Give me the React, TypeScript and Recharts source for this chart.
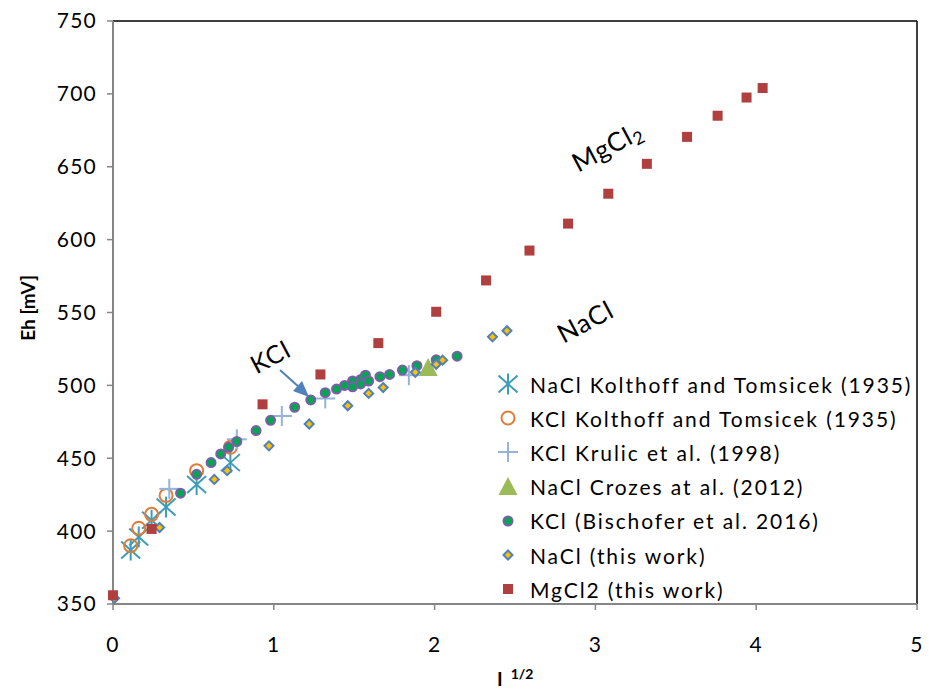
import { ScatterChart, Scatter, XAxis, YAxis, ReferenceLine, Legend } from 'recharts';

const FONT = 'Lato, "Open Sans", sans-serif';

// axes
const X_TICKS = [0, 1, 2, 3, 4, 5];
const Y_TICKS = [350, 400, 450, 500, 550, 600, 650, 700, 750];

// series: x = I^1/2, y = Eh [mV]
const naclKolthoff = [
  { x: 0.11, y: 387 },
  { x: 0.16, y: 396 },
  { x: 0.24, y: 407.5 },
  { x: 0.33, y: 416.5 },
  { x: 0.52, y: 432 },
  { x: 0.73, y: 447 },
];

const kclKolthoff = [
  { x: 0.11, y: 390 },
  { x: 0.16, y: 402 },
  { x: 0.24, y: 411.5 },
  { x: 0.33, y: 424.5 },
  { x: 0.52, y: 441.5 },
  { x: 0.73, y: 457.5 },
];

const kclKrulic = [
  { x: 0.35, y: 429 },
  { x: 0.77, y: 463 },
  { x: 1.05, y: 479 },
  { x: 1.32, y: 491 },
  { x: 1.84, y: 507 },
];

const naclCrozes = [{ x: 1.96, y: 512 }];

const kclBischofer = [
  { x: 0.42, y: 426 },
  { x: 0.52, y: 439 },
  { x: 0.61, y: 447 },
  { x: 0.67, y: 453 },
  { x: 0.72, y: 457.5 },
  { x: 0.77, y: 461.5 },
  { x: 0.89, y: 469 },
  { x: 0.98, y: 476 },
  { x: 1.13, y: 485 },
  { x: 1.23, y: 490 },
  { x: 1.32, y: 495 },
  { x: 1.39, y: 497.5 },
  { x: 1.44, y: 500 },
  { x: 1.49, y: 503 },
  { x: 1.49, y: 499 },
  { x: 1.54, y: 504 },
  { x: 1.54, y: 501 },
  { x: 1.57, y: 507 },
  { x: 1.59, y: 503 },
  { x: 1.66, y: 506 },
  { x: 1.72, y: 507.5 },
  { x: 1.8, y: 510.5 },
  { x: 1.89, y: 513.5 },
  { x: 2.01, y: 517.5 },
  { x: 2.14, y: 520 },
];

const naclThisWork = [
  { x: 0.01, y: 354 },
  { x: 0.29, y: 402.5 },
  { x: 0.63, y: 435.5 },
  { x: 0.71, y: 441.5 },
  { x: 0.97, y: 458.5 },
  { x: 1.22, y: 473.5 },
  { x: 1.46, y: 486 },
  { x: 1.59, y: 494.5 },
  { x: 1.68, y: 498.5 },
  { x: 1.88, y: 509 },
  { x: 2.01, y: 514.5 },
  { x: 2.05, y: 517.3 },
  { x: 2.36, y: 533.3 },
  { x: 2.45, y: 537.5 },
];

const mgcl2ThisWork = [
  { x: 0, y: 356 },
  { x: 0.24, y: 401.5 },
  { x: 0.93, y: 487 },
  { x: 1.29, y: 507.5 },
  { x: 1.65, y: 529 },
  { x: 2.01, y: 550.5 },
  { x: 2.32, y: 572 },
  { x: 2.59, y: 592.5 },
  { x: 2.83, y: 611 },
  { x: 3.08, y: 631.5 },
  { x: 3.32, y: 652 },
  { x: 3.57, y: 670.5 },
  { x: 3.76, y: 685 },
  { x: 3.94, y: 697.5 },
  { x: 4.04, y: 704 },
];

type Pt = { cx?: number; cy?: number };

const Asterisk = ({ cx = 0, cy = 0 }: Pt) => (
  <g stroke="#3E9DB6" strokeWidth={2}>
    <line x1={cx - 9.5} y1={cy - 8.5} x2={cx + 9.5} y2={cy + 8.5} />
    <line x1={cx - 9.5} y1={cy + 8.5} x2={cx + 9.5} y2={cy - 8.5} />
    <line x1={cx} y1={cy - 10.5} x2={cx} y2={cy + 10.5} />
  </g>
);

const OpenCircle = ({ cx = 0, cy = 0 }: Pt) => (
  <circle cx={cx} cy={cy} r={6.5} fill="none" stroke="#E07B39" strokeWidth={2} />
);

const Plus = ({ cx = 0, cy = 0 }: Pt) => (
  <g stroke="#95B3D7" strokeWidth={2}>
    <line x1={cx - 10} y1={cy} x2={cx + 10} y2={cy} />
    <line x1={cx} y1={cy - 10} x2={cx} y2={cy + 10} />
  </g>
);

const Triangle = ({ cx = 0, cy = 0 }: Pt) => (
  <polygon
    points={`${cx},${cy - 10} ${cx + 9.5},${cy + 8} ${cx - 9.5},${cy + 8}`}
    fill="#9BBB59"
  />
);

const GreenDot = ({ cx = 0, cy = 0 }: Pt) => (
  <circle cx={cx} cy={cy} r={4.5} fill="#00A651" stroke="#7B5EA7" strokeWidth={2} />
);

const Diamond = ({ cx = 0, cy = 0 }: Pt) => (
  <polygon
    points={`${cx},${cy - 4.5} ${cx + 4.5},${cy} ${cx},${cy + 4.5} ${cx - 4.5},${cy}`}
    fill="#FFC000"
    stroke="#4F81BD"
    strokeWidth={2}
  />
);

const Square = ({ cx = 0, cy = 0 }: Pt) => (
  <rect x={cx - 5} y={cy - 5} width={10} height={10} fill="#B0403F" />
);

const SERIES = [
  { name: 'NaCl Kolthoff and Tomsicek (1935)', data: naclKolthoff, Icon: Asterisk },
  { name: 'KCl Kolthoff and Tomsicek (1935)', data: kclKolthoff, Icon: OpenCircle },
  { name: 'KCl Krulic et al. (1998)', data: kclKrulic, Icon: Plus },
  { name: 'NaCl Crozes at al. (2012)', data: naclCrozes, Icon: Triangle },
  { name: 'KCl (Bischofer et al. 2016)', data: kclBischofer, Icon: GreenDot },
  { name: 'NaCl (this work)', data: naclThisWork, Icon: Diamond },
  { name: 'MgCl2 (this work)', data: mgcl2ThisWork, Icon: Square },
];

const renderLegend = () => (
  <div style={{ fontFamily: FONT, fontSize: 21, letterSpacing: 1.9, color: '#000' }}>
    {SERIES.map(({ name, Icon }) => (
      <div key={name} style={{ display: 'flex', alignItems: 'center', height: 34.2 }}>
        <svg width={30} height={30}>
          <Icon cx={15} cy={15} />
        </svg>
        <span style={{ marginLeft: 7, whiteSpace: 'nowrap' }}>{name}</span>
      </div>
    ))}
  </div>
);

export default function App() {
  const tick = { fill: '#000', fontSize: 21, fontFamily: FONT, letterSpacing: 1.2 };
  return (
    <div style={{ position: 'absolute', left: 0, top: 0, width: 929, height: 692, background: '#fff' }}>
      <ScatterChart width={929} height={692} margin={{ top: 21, right: 12, bottom: 0, left: 0 }}>
        <XAxis
          type="number"
          dataKey="x"
          domain={[0, 5]}
          ticks={X_TICKS}
          height={88}
          tick={tick}
          tickSize={6}
          tickMargin={27}
          axisLine={{ stroke: '#868686', strokeWidth: 2 }}
          tickLine={{ stroke: '#868686', strokeWidth: 1.5 }}
        />
        <YAxis
          type="number"
          dataKey="y"
          domain={[350, 750]}
          ticks={Y_TICKS}
          width={113}
          tick={tick}
          tickSize={6}
          tickMargin={10}
          axisLine={{ stroke: '#868686', strokeWidth: 2 }}
          tickLine={{ stroke: '#868686', strokeWidth: 1.5 }}
        />
        <ReferenceLine y={750} stroke="#000" strokeWidth={1.5} />
        <ReferenceLine x={5} stroke="#000" strokeWidth={1.5} />
        {SERIES.map(({ name, data, Icon }) => (
          <Scatter
            key={name}
            name={name}
            data={data}
            isAnimationActive={false}
            shape={(p: Pt) => <Icon cx={p.cx} cy={p.cy} />}
          />
        ))}
        <Legend
          layout="vertical"
          align="center"
          verticalAlign="middle"
          content={renderLegend}
          wrapperStyle={{ left: 493, top: 367, width: 434, height: 245 }}
        />
      </ScatterChart>
      <svg
        width={929}
        height={692}
        style={{ position: 'absolute', left: 0, top: 0, pointerEvents: 'none' }}
        fontFamily={FONT}
      >
        <text
          transform="translate(27 308) rotate(-90)"
          textAnchor="middle"
          dominantBaseline="central"
          fontSize={19}
          fontWeight="bold"
        >
          Eh [mV]
        </text>
        <text x={497} y={686} fontSize={19} fontWeight="bold">
          I
          <tspan dx={8} dy={-7} fontSize={14}>1/2</tspan>
        </text>
        <text
          transform="translate(270 356) rotate(-28)"
          textAnchor="middle"
          dominantBaseline="central"
          fontSize={25}
          letterSpacing={1}
        >
          KCl
        </text>
        <line x1={280} y1={370} x2={300} y2={388} stroke="#4F81BD" strokeWidth={2} />
        <polygon points="309,397 293,391 302,381" fill="#4F81BD" />
        <text
          transform="translate(585 321) rotate(-28)"
          textAnchor="middle"
          dominantBaseline="central"
          fontSize={26}
          letterSpacing={1}
        >
          NaCl
        </text>
        <text
          transform="translate(607 146) rotate(-28)"
          textAnchor="middle"
          dominantBaseline="central"
          fontSize={26}
          letterSpacing={1}
        >
          MgCl
          <tspan dy={7} fontSize={18}>2</tspan>
        </text>
      </svg>
    </div>
  );
}
